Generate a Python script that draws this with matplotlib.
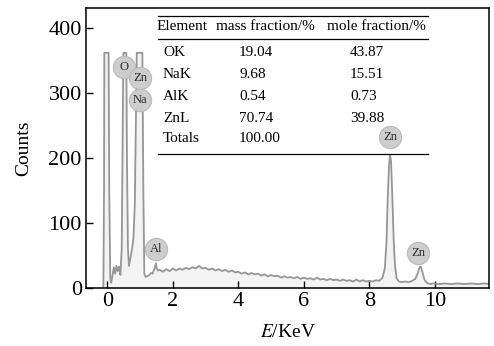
import matplotlib
matplotlib.use("Agg")
import matplotlib.pyplot as plt
from matplotlib.lines import Line2D

plt.rcParams['font.family'] = ['Liberation Serif', 'DejaVu Serif']
plt.rcParams['mathtext.fontset'] = 'stix'

# EDS spectrum (energy in keV, counts)
energy = [-0.12, -0.10, -0.09, 0.04, 0.06, 0.09, 0.12, 0.16, 0.20, 0.24, 0.28, 0.32,
          0.36, 0.40, 0.44, 0.47, 0.49, 0.58, 0.60, 0.63, 0.66, 0.70, 0.75, 0.80,
          0.84, 0.87, 0.90, 1.07, 1.10, 1.13, 1.17, 1.22, 1.28, 1.33, 1.38, 1.42,
          1.46, 1.48, 1.51, 1.55,
          1.6, 1.7, 1.8, 1.9, 2.0, 2.1, 2.2, 2.3, 2.4, 2.5, 2.6, 2.7, 2.8, 2.9,
          3.0, 3.1, 3.2, 3.3, 3.4, 3.5, 3.6, 3.7, 3.8, 3.9,
          4.0, 4.1, 4.2, 4.3, 4.4, 4.5, 4.6, 4.7, 4.8, 4.9,
          5.0, 5.1, 5.2, 5.3, 5.4, 5.5, 5.6, 5.7, 5.8, 5.9,
          6.0, 6.1, 6.2, 6.3, 6.4, 6.5, 6.6, 6.7, 6.8, 6.9,
          7.0, 7.1, 7.2, 7.3, 7.4, 7.5, 7.6, 7.7, 7.8, 7.9,
          8.0, 8.1, 8.2, 8.3, 8.4, 8.47, 8.52, 8.56, 8.60, 8.63, 8.66, 8.70,
          8.74, 8.78, 8.83, 8.9, 9.0, 9.1, 9.2, 9.3, 9.4, 9.47, 9.53, 9.57,
          9.62, 9.68, 9.75, 9.85, 9.95, 10.1, 10.3, 10.5, 10.7, 10.9, 11.1,
          11.3, 11.5, 11.7]
counts = [0, 150, 362, 362, 150, 15, 8, 20, 32, 22, 34, 26,
          33, 20, 60, 250, 362, 362, 200, 60, 34, 45, 58, 78,
          130, 240, 362, 362, 150, 22, 17, 18, 20, 23, 22, 27,
          32, 38, 30, 27,
          28, 25, 29, 26, 30, 27, 30, 28, 31, 29, 32, 30, 34, 30,
          31, 28, 30, 27, 29, 26, 28, 25, 27, 24,
          25, 22, 24, 21, 23, 21, 22, 19, 21, 18,
          20, 18, 19, 16, 18, 16, 17, 15, 17, 14,
          16, 14, 15, 13, 16, 13, 14, 12, 14, 12,
          13, 11, 13, 11, 12, 10, 13, 10, 12, 10,
          11, 10, 12, 11, 16, 30, 70, 140, 190, 205, 195, 140,
          75, 35, 15, 10, 9, 10, 9, 11, 14, 22, 32, 33,
          24, 13, 8, 6, 7, 6, 7, 6, 7, 6, 7,
          6, 7, 6]

# peak labels
peak_names = ['O', 'Zn', 'Na', 'Al', 'Zn', 'Zn']
peak_x = [0.52, 1.0, 1.0, 1.49, 8.64, 9.48]
peak_y = [340, 323, 289, 60, 232, 54]

# composition table
elements = ['OK', 'NaK', 'AlK', 'ZnL', 'Totals']
mass_frac = ['19.04', '9.68', '0.54', '70.74', '100.00']
mole_frac = ['43.87', '15.51', '0.73', '39.88', '']

W, H = 494, 346
fig = plt.figure(figsize=(W / 100, H / 100), dpi=100)
ax = fig.add_axes([86 / W, 1 - 288 / H, (489 - 86) / W, (288 - 8) / H])

ax.fill_between(energy, counts, 0, color='#f3f3f3', lw=0)
ax.plot(energy, counts, color='#969696', lw=1.3)

for name, x, y in zip(peak_names, peak_x, peak_y):
    ax.plot(x, y, 'o', ms=16, mfc='#cdcdcd', mec='#bababa', mew=0.8, zorder=4)
    ax.text(x, y, name, ha='center', va='center', fontsize=9, color='#2a2a2a', zorder=5)

ax.set_xlim(-0.65, 11.65)
ax.set_ylim(0, 431)
ax.set_xticks([0, 2, 4, 6, 8, 10])
ax.set_yticks([0, 100, 200, 300, 400])
ax.tick_params(direction='in', length=5, width=1, labelsize=16, pad=3)
for s in ax.spines.values():
    s.set_linewidth(1.1)

ax.set_xlabel('$E$/KeV', fontsize=14, labelpad=9)
ax.set_ylabel('Counts', fontsize=14, labelpad=12)

# table drawn in figure pixel coordinates
def fx(px):
    return px / W

def fy(py):
    return 1 - py / H

for py in (16, 39, 154):
    fig.add_artist(Line2D([fx(158), fx(428)], [fy(py), fy(py)], color='black', lw=0.9))

fs = 11
fig.text(fx(157), fy(27), 'Element', fontsize=fs, va='center')
fig.text(fx(216), fy(27), 'mass fraction/%', fontsize=fs, va='center')
fig.text(fx(327), fy(27), 'mole fraction/%', fontsize=fs, va='center')
row_y = [52, 74, 96, 118, 139]
for el, m, mo, py in zip(elements, mass_frac, mole_frac, row_y):
    fig.text(fx(163), fy(py), el, fontsize=fs, va='center')
    fig.text(fx(239), fy(py), m, fontsize=fs, va='center')
    fig.text(fx(350), fy(py), mo, fontsize=fs, va='center')

fig.savefig('out.png', dpi=100)
